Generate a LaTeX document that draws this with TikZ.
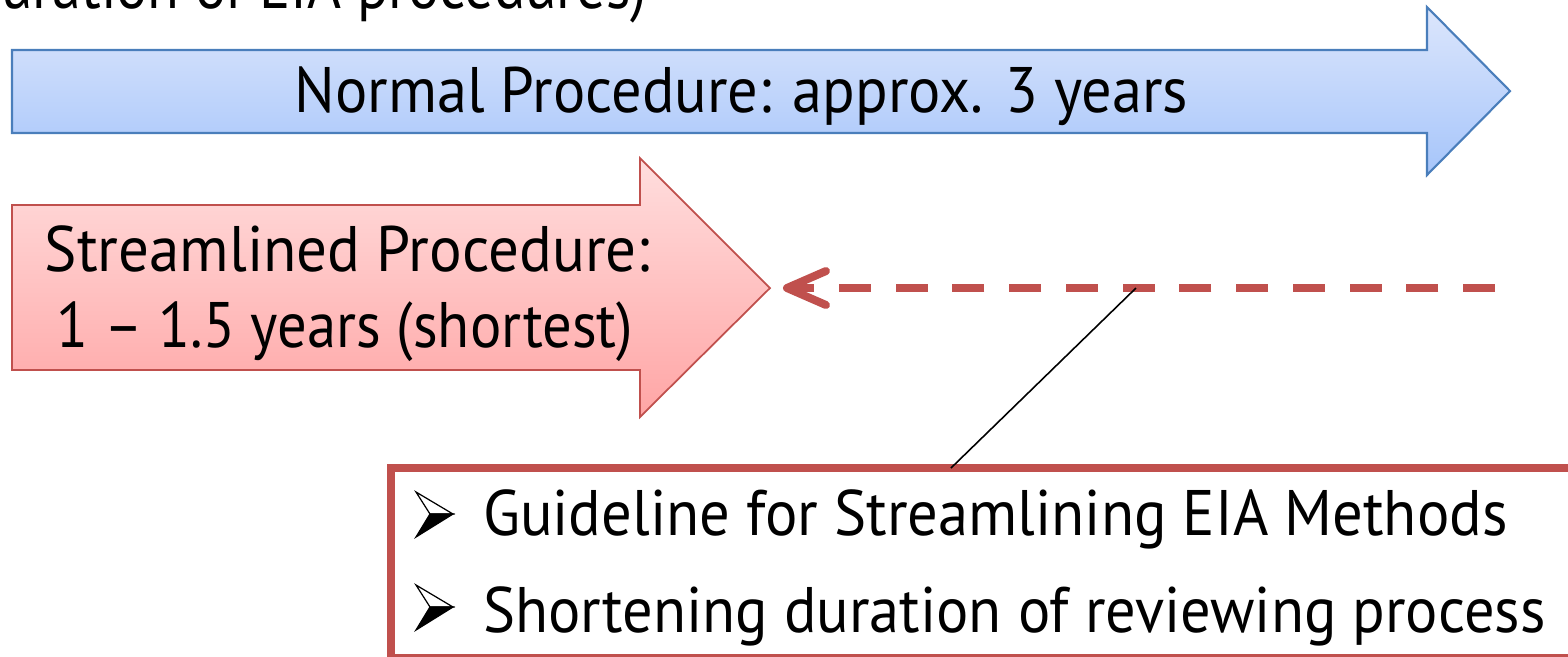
\documentclass[tikz,border=0pt]{standalone}
\usepackage{fontspec}
\setmainfont{PT Sans}
\usepackage{graphicx}
\usetikzlibrary{calc}
\definecolor{bluetop}{HTML}{DCE6FC}
\definecolor{bluebot}{HTML}{A6C5FA}
\definecolor{blueline}{HTML}{4A7EBB}
\definecolor{redtop}{HTML}{FFDEDE}
\definecolor{redbot}{HTML}{FFA5A5}
\definecolor{redline}{HTML}{C0504D}
\newcommand\fitto[2]{\resizebox{#1}{\height}{#2}}
\tikzset{
  txt/.style={inner sep=0pt, outer sep=0pt, font=\fontsize{18.3}{22}\selectfont, text=black},
  bluearrow/.style={draw=blueline, line width=0.6pt, top color=bluetop, bottom color=bluebot, line join=miter},
  redarrow/.style={draw=redline, line width=0.5pt, top color=redtop, bottom color=redbot, line join=miter},
  dashlink/.style={draw=redline, line width=2.28pt, dash pattern=on 0.32cm off 0.247cm},
  vtip/.style={draw=redline, line width=2.28pt, line cap=round, line join=round},
  callout/.style={draw=black, line width=0.45pt},
  listbox/.style={draw=redline, line width=2.28pt, inner sep=0pt, outer sep=0pt, minimum width=12.29cm, minimum height=1.9cm},
}
\newcommand\bulletmark[2]{%
  \filldraw[draw=black, fill=white, line width=0.35pt, line join=miter] (#1,#2) -- ++(37,22) -- ++(-23,0) -- cycle;
  \filldraw[draw=black, fill=black, line width=0.35pt, line join=miter] ($(#1,#2)+(14,22)$) -- ++(23,0) -- ($(#1,#2)+(0,45)$) -- cycle;
}
\begin{document}
\begin{tikzpicture}[x=0.01cm, y=-0.01cm]
\useasboundingbox (0,0) rectangle (1568,656);
\clip (0,0) rectangle (1568,656);
% title line (cut off at top and left, as in the reference)
\node[txt, font=\fontsize{18.9}{22}\selectfont, anchor=base east] (title) at (647,8) {\scalebox{0.875}[1]{(Duration of EIA procedures)}};
% blue arrow
\path[bluearrow] (12,50) -- (1427,50) -- (1427,7) -- (1510,91) -- (1427,175) -- (1427,133) -- (12,133) -- cycle;
\node[txt, anchor=base] (normal) at (741.5,112) {\fitto{8.93cm}{Normal Procedure: approx. 3 years}};
% red arrow
\path[redarrow] (12,205) -- (640,205) -- (640,158) -- (770,288) -- (640,417) -- (640,370) -- (12,370) -- cycle;
\coordinate (rtip) at (770,288);
\node[txt, anchor=base] (streamA) at (347.5,271) {\fitto{6.05cm}{Streamlined Procedure:}};
\node[txt, anchor=base] (streamB) at (345,347) {\fitto{5.76cm}{1 – 1.5 years (shortest)}};
% dashed connector
\coordinate (dstart) at (1495,288);
\coordinate (dend) at ($(rtip)+(17,0)$);
\draw[dashlink] (dstart) -- (dend);
\draw[vtip] ($(dend)+(39,-17)$) -- (dend) -- ($(dend)+(39,17)$);
% list box
\node[listbox] (box) at (1005.5,563) {};
\coordinate (lk) at (951,468);
\coordinate (lkup) at (1136,288);
\draw[callout] (lkup) -- (lk);
\bulletmark{416}{492}
\bulletmark{416}{585}
\node[txt, anchor=base west] (itemA) at (483,535) {\fitto{10.24cm}{Guideline for Streamlining EIA Methods}};
\node[txt, anchor=base west] (itemB) at (483,632) {\fitto{10.62cm}{Shortening duration of reviewing process}};
\end{tikzpicture}
\end{document}
